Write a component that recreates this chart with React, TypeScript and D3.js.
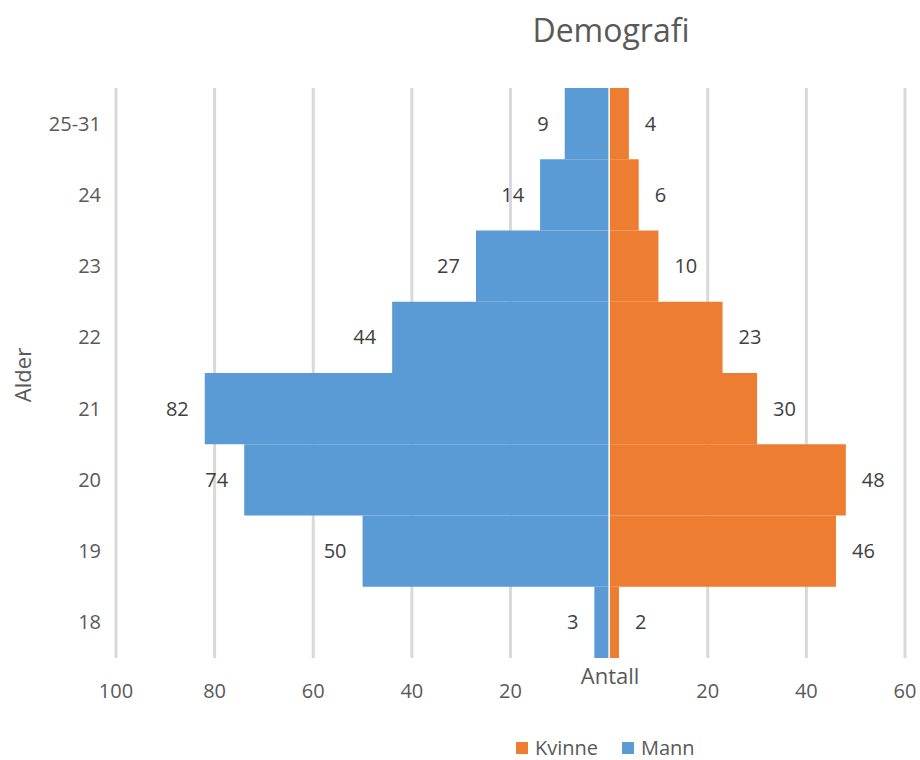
import React from "react";
import * as d3 from "d3";

const categories = ["18", "19", "20", "21", "22", "23", "24", "25-31"];
const mann = [3, 50, 74, 82, 44, 27, 14, 9];
const kvinne = [2, 46, 48, 30, 23, 10, 6, 4];
const tickValues = [-100, -80, -60, -40, -20, 0, 20, 40, 60];

const W = 920;
const H = 760;
const FONT = "Open Sans, Lato, sans-serif";

export default function App() {
  const left = 116;
  const right = 905;
  const top = 88;
  const bottom = 658;
  const x = d3.scaleLinear().domain([-100, 60]).range([left, right]);
  const y = d3
    .scaleBand<string>()
    .domain([...categories].reverse())
    .range([top, bottom])
    .paddingInner(0)
    .paddingOuter(0);
  const bw = y.bandwidth();
  const x0 = x(0);

  return (
    <svg
      width={W}
      height={H}
      style={{ position: "absolute", left: 0, top: 0, background: "#fff" }}
      fontFamily={FONT}
    >
      <rect x={0} y={0} width={W} height={H} fill="#fff" />
      <text x={611} y={42} textAnchor="middle" fontSize={32} fill="#595959">
        Demografi
      </text>
      {/* gridlines */}
      {tickValues
        .filter((t) => t !== 0)
        .map((t) => (
          <line
            key={"g" + t}
            x1={x(t)}
            x2={x(t)}
            y1={top}
            y2={bottom}
            stroke="#d9d9d9"
            strokeWidth={3}
          />
        ))}
      {/* bars */}
      {categories.map((c, i) => (
        <g key={"b" + c}>
          <rect
            x={x(-mann[i])}
            y={y(c)!}
            width={x0 - x(-mann[i])}
            height={bw}
            fill="#5b9bd5"
          />
          <rect
            x={x0}
            y={y(c)!}
            width={x(kvinne[i]) - x0}
            height={bw}
            fill="#ed7d31"
          />
        </g>
      ))}
      <line x1={x0} x2={x0} y1={top} y2={bottom} stroke="#fff" strokeWidth={1.5} />
      {/* data labels */}
      {categories.map((c, i) => (
        <g key={"l" + c} fontSize={20} fill="#404040">
          <text
            x={x(-mann[i]) - 16}
            y={y(c)! + bw / 2}
            dy="0.35em"
            textAnchor="end"
          >
            {mann[i]}
          </text>
          <text
            x={x(kvinne[i]) + 16}
            y={y(c)! + bw / 2}
            dy="0.35em"
            textAnchor="start"
          >
            {kvinne[i]}
          </text>
        </g>
      ))}
      {/* y axis labels */}
      {categories.map((c) => (
        <text
          key={"y" + c}
          x={101}
          y={y(c)! + bw / 2}
          dy="0.35em"
          textAnchor="end"
          fontSize={20}
          fill="#595959"
        >
          {c}
        </text>
      ))}
      {/* x axis labels */}
      {tickValues
        .filter((t) => t !== 0)
        .map((t) => (
          <text
            key={"x" + t}
            x={x(t)}
            y={691}
            dy="0.35em"
            textAnchor="middle"
            fontSize={20}
            fill="#595959"
          >
            {Math.abs(t)}
          </text>
        ))}
      <text x={x0 + 1} y={676} dy="0.35em" textAnchor="middle" fontSize={22} fill="#595959">
        Antall
      </text>
      <text
        transform={`translate(31,375) rotate(-90)`}
        textAnchor="middle"
        fontSize={22}
        fill="#595959"
      >
        Alder
      </text>
      {/* legend */}
      <rect x={516} y={742} width={12} height={12} fill="#ed7d31" />
      <text x={535} y={748} dy="0.35em" fontSize={20} fill="#595959">
        Kvinne
      </text>
      <rect x={622} y={742} width={12} height={12} fill="#5b9bd5" />
      <text x={641} y={748} dy="0.35em" fontSize={20} fill="#595959">
        Mann
      </text>
    </svg>
  );
}
